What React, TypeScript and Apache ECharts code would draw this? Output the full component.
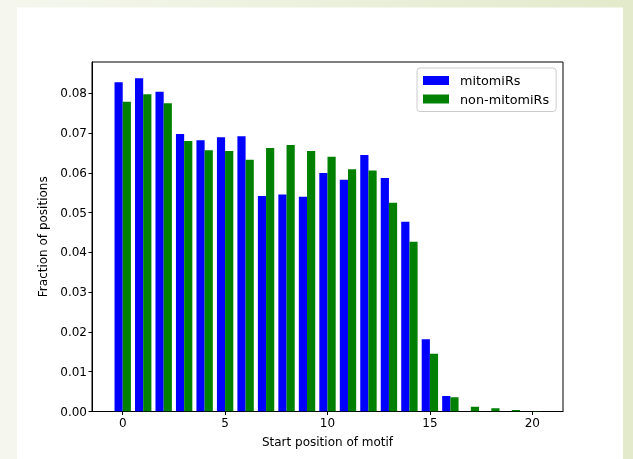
import React, { useEffect, useRef } from "react";
import * as echarts from "echarts";

const positions = [0, 1, 2, 3, 4, 5, 6, 7, 8, 9, 10, 11, 12, 13, 14, 15, 16, 17, 18, 19, 20];
const mitomiRs = [0.0828, 0.0838, 0.0804, 0.0698, 0.0682, 0.069, 0.0692, 0.0542, 0.0546, 0.054, 0.06, 0.0583, 0.0645, 0.0587, 0.0477, 0.0182, 0.0039, 0, 0, 0, 0];
const nonMitomiRs = [0.0779, 0.0798, 0.0775, 0.068, 0.0657, 0.0655, 0.0633, 0.0663, 0.067, 0.0655, 0.0641, 0.0609, 0.0606, 0.0525, 0.0427, 0.0145, 0.0036, 0.0012, 0.0008, 0.0004, 0.0001];
const xTicks = [0, 5, 10, 15, 20];
const yTicks = [0, 0.01, 0.02, 0.03, 0.04, 0.05, 0.06, 0.07, 0.08];

const FONT = "DejaVu Sans";

function barRenderer(offset: number, color: string) {
  return (params: any, api: any) => {
    const x = api.value(0);
    const y = api.value(1);
    const a = api.coord([x + offset - 0.2, y]);
    const b = api.coord([x + offset + 0.2, 0]);
    return {
      type: "rect",
      shape: { x: a[0], y: a[1], width: b[0] - a[0], height: b[1] - a[1] },
      style: { fill: color },
    };
  };
}

export default function App() {
  const ref = useRef<HTMLDivElement>(null);
  useEffect(() => {
    if (!ref.current) return;
    const chart = echarts.init(ref.current, undefined, { renderer: "svg" });
    chart.setOption({
      animation: false,
      graphic: [
        {
          type: "rect",
          z: -100,
          shape: { x: 0, y: 0, width: 633, height: 459 },
          style: {
            fill: new echarts.graphic.LinearGradient(0, 0, 1, 0, [
              { offset: 0, color: "#f5f7ee" },
              { offset: 1, color: "#e2eacb" },
            ]),
          },
        },
        {
          type: "rect",
          z: -99,
          shape: { x: 17, y: 7.5, width: 606, height: 460 },
          style: { fill: "#ffffff" },
        },
      ],
      grid: {
        left: 92,
        top: 62,
        width: 471,
        height: 349.5,
        show: true,
        borderColor: "#000",
        borderWidth: 1,
        backgroundColor: "transparent",
      },
      legend: {
        orient: "vertical",
        left: 417,
        top: 68,
        padding: [6, 7, 6, 6],
        itemGap: 5.5,
        itemWidth: 26,
        itemHeight: 9,
        borderColor: "#cccccc",
        borderWidth: 1,
        borderRadius: 3,
        backgroundColor: "rgba(255,255,255,0.8)",
        textStyle: { fontFamily: FONT, fontSize: 12.8, color: "#000", padding: [0, 0, 0, 6] },
        data: [
          { name: "mitomiRs", icon: "rect", itemStyle: { color: "#0000ff" } },
          { name: "non-mitomiRs", icon: "rect", itemStyle: { color: "#008000" } },
        ],
      },
      xAxis: {
        type: "value",
        min: -1.5,
        max: 21.5,
        name: "Start position of motif",
        nameLocation: "middle",
        nameGap: 24,
        nameTextStyle: { fontFamily: FONT, fontSize: 12, color: "#000" },
        axisLine: { show: true, onZero: false, lineStyle: { color: "#000", width: 1 } },
        axisTick: { show: true, length: 3.5, customValues: xTicks, lineStyle: { color: "#000" } },
        axisLabel: {
          customValues: xTicks,
          margin: 5,
          fontFamily: FONT,
          fontSize: 12,
          color: "#000",
        },
        splitLine: { show: false },
      },
      yAxis: {
        type: "value",
        min: 0,
        max: 0.0879,
        name: "Fraction of positions",
        nameLocation: "middle",
        nameGap: 41,
        nameTextStyle: { fontFamily: FONT, fontSize: 12, color: "#000" },
        axisLine: { show: true, onZero: false, lineStyle: { color: "#000", width: 1 } },
        axisTick: { show: true, length: 3.5, customValues: yTicks, lineStyle: { color: "#000" } },
        axisLabel: {
          customValues: yTicks,
          margin: 5,
          fontFamily: FONT,
          fontSize: 12,
          color: "#000",
          formatter: (v: number) => v.toFixed(2),
        },
        splitLine: { show: false },
      },
      series: [
        {
          name: "mitomiRs",
          type: "custom",
          clip: true,
          renderItem: barRenderer(-0.2, "#0000ff"),
          encode: { x: 0, y: 1 },
          itemStyle: { color: "#0000ff" },
          data: positions.map((p, i) => [p, mitomiRs[i]]),
        },
        {
          name: "non-mitomiRs",
          type: "custom",
          clip: true,
          renderItem: barRenderer(0.2, "#008000"),
          encode: { x: 0, y: 1 },
          itemStyle: { color: "#008000" },
          data: positions.map((p, i) => [p, nonMitomiRs[i]]),
        },
      ],
    });
    return () => chart.dispose();
  }, []);
  return (
    <div
      ref={ref}
      style={{ position: "fixed", left: 0, top: 0, width: 633, height: 459 }}
    />
  );
}
